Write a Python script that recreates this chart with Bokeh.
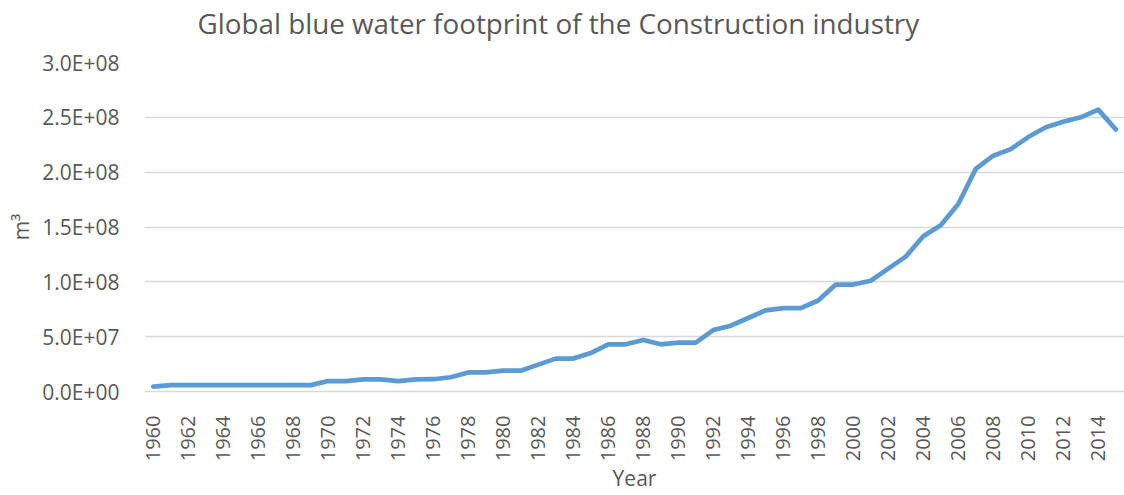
from bokeh.plotting import figure
from bokeh.models import FixedTicker, Range1d, ColumnDataSource, Title
from bokeh.embed import file_html
from bokeh.resources import INLINE

years = list(range(1960, 2016))
water = [
    4.5e6, 5.8e6, 5.8e6, 5.8e6, 5.8e6, 5.8e6, 5.8e6, 5.8e6, 5.8e6, 5.8e6,   # 1960-1969
    9.5e6, 9.5e6, 1.11e7, 1.11e7, 9.5e6, 1.11e7, 1.12e7, 1.3e7, 1.74e7, 1.74e7,  # 1970-1979
    1.9e7, 1.9e7, 2.45e7, 3.0e7, 3.0e7, 3.5e7, 4.3e7, 4.3e7, 4.7e7, 4.3e7,   # 1980-1989
    4.45e7, 4.45e7, 5.6e7, 6.0e7, 6.7e7, 7.4e7, 7.6e7, 7.6e7, 8.3e7, 9.75e7,  # 1990-1999
    9.75e7, 1.01e8, 1.12e8, 1.23e8, 1.415e8, 1.515e8, 1.71e8, 2.03e8, 2.15e8, 2.21e8,  # 2000-2009
    2.32e8, 2.41e8, 2.46e8, 2.5e8, 2.57e8, 2.39e8,  # 2010-2015
]
x_ticks = list(range(1960, 2015, 2))
y_ticks = [0, 5e7, 1e8, 1.5e8, 2e8, 2.5e8, 3e8]
y_labels = {v: "{:.1E}".format(v) for v in y_ticks}

title_text = "Global blue water footprint of the Construction industry"
x_title = "Year"
y_title = "m³"
FONT = "Open Sans"
GREY = "#595959"
GRID = "#d9d9d9"

src = ColumnDataSource(dict(year=years, water=water))

p = figure(width=1124, height=495, output_backend="svg", toolbar_location=None,
           x_range=Range1d(1959.5, 2015.5), y_range=Range1d(0, 3e8),
           title=None)
p.min_border_left = 144
p.min_border_right = 0
p.min_border_top = 62
p.min_border_bottom = 104
p.outline_line_color = None
p.background_fill_color = "white"
p.border_fill_color = "white"

# spacer between chart title and plot area (closest to the frame)
p.add_layout(Title(text=" ", text_font=FONT, text_font_size="10px",
                   text_color="white", standoff=5), "above")
# chart title
p.add_layout(Title(text=title_text, text_font=FONT, text_font_size="27.8px",
                   text_font_style="normal", text_color=GREY, align="left",
                   offset=53, standoff=0), "above")

p.line("year", "water", source=src, line_color="#5b9bd5", line_width=4.7,
       line_cap="round", line_join="round")

# x axis
xa = p.xaxis[0]
xa.ticker = FixedTicker(ticks=x_ticks)
xa.major_label_orientation = 3.14159265 / 2
xa.major_tick_line_color = None
xa.minor_tick_line_color = None
xa.axis_line_color = GRID
xa.axis_line_width = 1.5
xa.major_label_text_font = FONT
xa.major_label_text_font_size = "20px"
xa.major_label_text_color = GREY
xa.major_label_standoff = 18
xa.axis_label = x_title
xa.axis_label_text_font = FONT
xa.axis_label_text_font_size = "21px"
xa.axis_label_text_font_style = "normal"
xa.axis_label_text_color = GREY
xa.axis_label_standoff = 0

# y axis
ya = p.yaxis[0]
ya.ticker = FixedTicker(ticks=y_ticks)
ya.major_label_overrides = y_labels
ya.major_tick_line_color = None
ya.minor_tick_line_color = None
ya.axis_line_color = None
ya.major_label_text_font = FONT
ya.major_label_text_font_size = "21px"
ya.major_label_text_color = GREY
ya.major_label_standoff = 19
ya.axis_label = y_title
ya.axis_label_text_font = FONT
ya.axis_label_text_font_size = "21px"
ya.axis_label_text_font_style = "normal"
ya.axis_label_text_color = GREY
ya.axis_label_standoff = 4

p.xgrid.grid_line_color = None
p.ygrid.grid_line_color = GRID
p.ygrid.grid_line_width = 1.5

open("out.html", "w").write(file_html(p, INLINE))
